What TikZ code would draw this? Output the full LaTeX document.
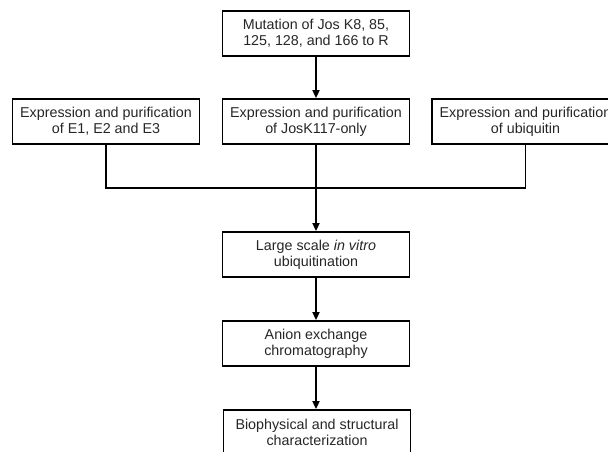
\documentclass[tikz,border=0pt]{standalone}
\usepackage{fontspec}
\setmainfont{Liberation Sans}
\usetikzlibrary{arrows.meta}
\begin{document}
\begin{tikzpicture}[x=1pt,y=-1pt,
  stepbox/.style={draw=black, line width=1.8pt, minimum width=187pt, minimum height=45pt,
    inner sep=0pt, align=center, font=\fontsize{14.3pt}{16pt}\selectfont, text=black!85},
  link/.style={draw=black, line width=1.8pt},
  arr/.style={link, -{Triangle[length=8pt,width=7pt]}}]
\useasboundingbox (0,0) rectangle (608,452);
\clip (0,0) rectangle (608,452);
\node[stepbox] (mut) at (316,33.5) {Mutation of Jos K8, 85,\\125, 128, and 166 to R};
\node[stepbox] (e123) at (106,121.5) {Expression and purification\\of E1, E2 and E3};
\node[stepbox] (jos) at (316,121.5) {Expression and purification\\of JosK117-only};
\node[stepbox] (ubq) at (525.5,121.5) {Expression and purification\\of ubiquitin};
\node[stepbox] (large) at (316,254.5) {Large scale \textit{in vitro}\\ubiquitination};
\node[stepbox] (anion) at (316,343.5) {Anion exchange\\chromatography};
\node[stepbox] (bio) at (317,432.5) {Biophysical and structural\\characterization};
\coordinate (junc) at (316,188);
\draw[arr] (mut.south) -- (jos.north);
\draw[link] (e123.south) -- (e123.south |- junc) -- (ubq.south |- junc) -- (ubq.south);
\draw[link] (jos.south) -- (junc);
\draw[arr] (junc) -- (large.north -| junc);
\draw[arr] (large.south -| junc) -- (anion.north -| junc);
\draw[arr] (anion.south -| junc) -- (bio.north -| junc);
\end{tikzpicture}
\end{document}
